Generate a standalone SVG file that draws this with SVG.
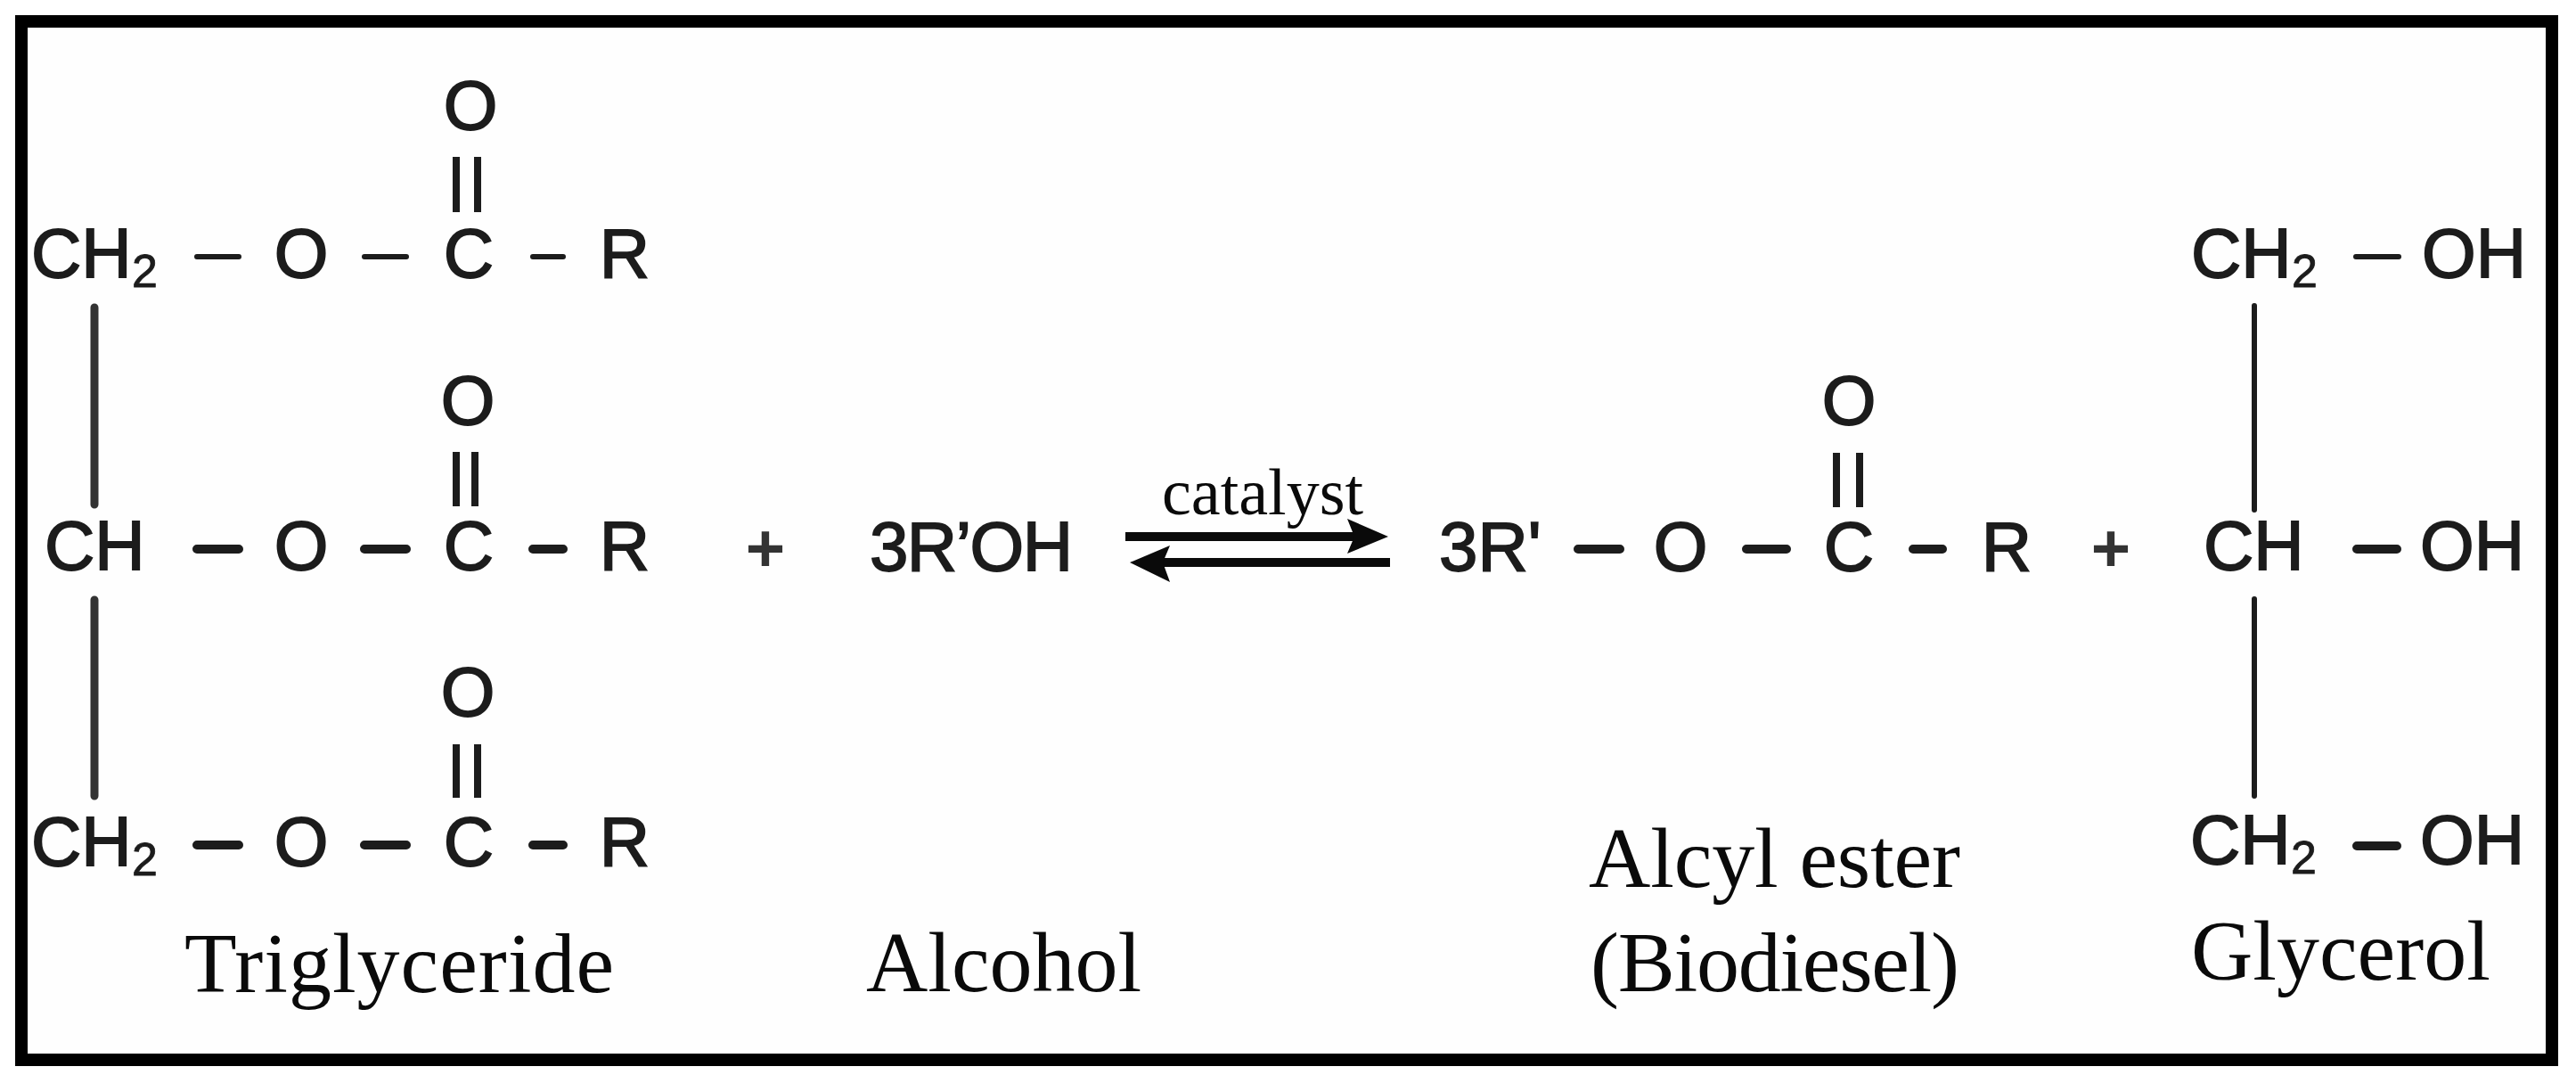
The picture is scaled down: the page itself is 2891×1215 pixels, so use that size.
<svg xmlns="http://www.w3.org/2000/svg" width="2891" height="1215" viewBox="0 0 2891 1215">
<style>
.a{font-family:"Liberation Sans",Arial,sans-serif;font-size:78px;fill:#1c1c1c;stroke:#1c1c1c;stroke-width:1.8px}
.m{text-anchor:middle}
.s{font-family:"Liberation Sans",Arial,sans-serif;font-size:52px;fill:#1c1c1c;stroke:#1c1c1c;stroke-width:.8px}
.p{font-family:"Liberation Sans",Arial,sans-serif;font-size:76px;font-weight:bold;fill:#333;text-anchor:middle}
.l{font-family:"Liberation Serif","Times New Roman",serif;font-size:96px;fill:#0a0a0a}
.c{font-family:"Liberation Serif","Times New Roman",serif;font-size:74px;fill:#0a0a0a}
.b{stroke:#1c1c1c;stroke-width:10;stroke-linecap:round;fill:none}
.t{stroke:#1c1c1c;stroke-width:6;stroke-linecap:round;fill:none}
.v{stroke:#333;stroke-width:9;stroke-linecap:round;fill:none}
.v2{stroke:#1c1c1c;stroke-width:6;stroke-linecap:round;fill:none}
.d{stroke:#1c1c1c;stroke-width:8;fill:none}
.ar{stroke:#0a0a0a;stroke-width:10;fill:none}
.h{fill:#0a0a0a}
</style>
<rect x="0" y="0" width="2891" height="1215" fill="#ffffff"/>
<rect id="frame" x="24" y="24" width="2840" height="1165" fill="#fefefe" stroke="#000" stroke-width="14"/>

<g id="triglyceride">
<text class="a" x="35" y="311">CH</text><text class="s" x="148" y="322">2</text>
<text class="a m" x="338" y="311">O</text><text class="a m" x="526" y="311">C</text><text class="a m" x="701" y="311">R</text>
<text class="a m" x="528" y="145">O</text>
<text class="a" x="50" y="639">CH</text>
<text class="a m" x="338" y="639">O</text><text class="a m" x="526" y="639">C</text><text class="a m" x="701" y="639">R</text>
<text class="a m" x="525" y="476">O</text>
<text class="a" x="35" y="971">CH</text><text class="s" x="148" y="982">2</text>
<text class="a m" x="338" y="971">O</text><text class="a m" x="526" y="971">C</text><text class="a m" x="701" y="971">R</text>
<text class="a m" x="525" y="803">O</text>
<text class="l" x="207" y="1113" textLength="482">Triglyceride</text>
</g>
<g id="plus-1"><text class="p" x="859" y="641">+</text></g>
<g id="alcohol">
<text class="a" x="976" y="640" textLength="228">3R’OH</text>
<text class="l" x="972" y="1112">Alcohol</text>
</g>
<g id="catalyst"><text class="c" x="1304" y="577">catalyst</text></g>
<g id="biodiesel">
<text class="a" x="1615" y="640">3R'</text>
<text class="a m" x="1886" y="640">O</text><text class="a m" x="2075" y="640">C</text><text class="a m" x="2252" y="640">R</text>
<text class="a m" x="2075" y="476">O</text>
<text class="l" x="1783" y="995" textLength="417">Alcyl ester</text>
<text class="l" x="1785" y="1112" textLength="414">(Biodiesel)</text>
</g>
<g id="plus-2"><text class="p" x="2369" y="641">+</text></g>
<g id="glycerol">
<text class="a" x="2459" y="311">CH</text><text class="s" x="2572" y="322">2</text><text class="a" x="2718" y="311">OH</text>
<text class="a" x="2473" y="639">CH</text><text class="a" x="2716" y="639">OH</text>
<text class="a" x="2458" y="969">CH</text><text class="s" x="2571" y="980">2</text><text class="a" x="2716" y="969">OH</text>
<text class="l" x="2459" y="1099">Glycerol</text>
</g>

<g id="connectors">
<path class="t" d="M221 288H268M409 288H456M598 288H632"/>
<path class="d" d="M512 176V238M536 176V238"/>
<path class="b" d="M221 616H268M409 616H456M598 616H632"/>
<path class="d" d="M512 507V568M533 507V568"/>
<path class="b" d="M221 948H268M409 948H456M598 948H632"/>
<path class="d" d="M512 835V895M536 835V895"/>
<path class="v" d="M106 345V566M106 673V893"/>
<path class="ar" d="M1263 602H1525"/>
<path class="h" d="M1512 582L1558 602L1512 621L1520 602Z"/>
<path class="ar" d="M1560 631H1300"/>
<path class="h" d="M1313 612L1268 631L1313 653L1305 631Z"/>
<path class="b" d="M1771 616H1818M1960 616H2005M2147 616H2180"/>
<path class="d" d="M2061 508V569M2087 508V569"/>
<path class="t" d="M2644 288H2692"/>
<path class="b" d="M2645 616H2690M2645 949H2690"/>
<path class="v2" d="M2530 343V572M2530 672V893"/>
</g>
</svg>
